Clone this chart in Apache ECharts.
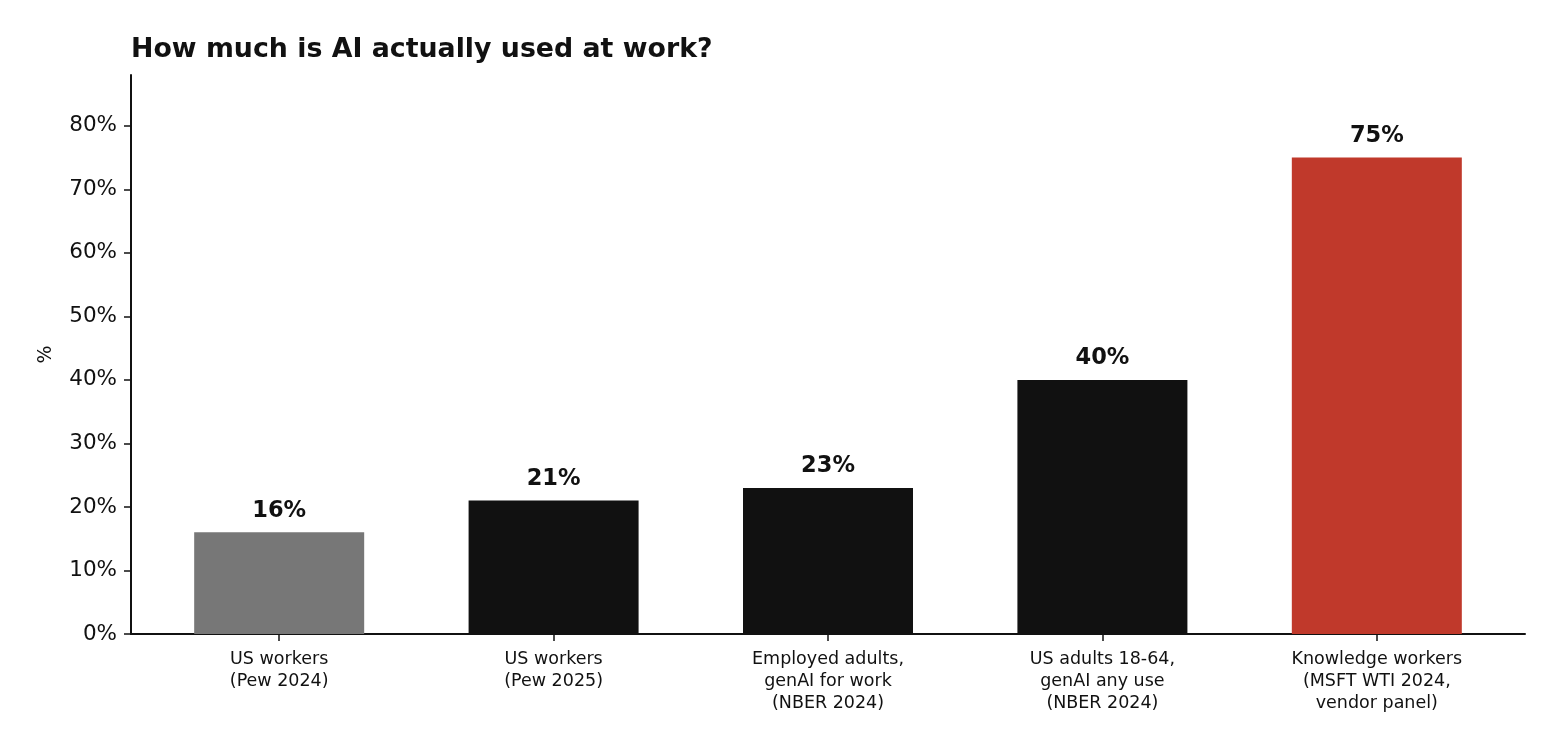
<!DOCTYPE html>
<html>
<head>
    <meta charset="utf-8">
    <title>AI at work</title>
    <script src="https://cdn.jsdelivr.net/npm/echarts@6/dist/echarts.min.js"></script>
    <style>
        html, body { width: 100%; height: 100%; margin: 0; background: #ffffff; }
        #main { width: 1562px; height: 752px; }
    </style>
</head>
<body>
    <div id="main"></div>
    <script type="text/javascript">
        var categories = [
            'US workers\n(Pew 2024)',
            'US workers\n(Pew 2025)',
            'Employed adults,\ngenAI for work\n(NBER 2024)',
            'US adults 18-64,\ngenAI any use\n(NBER 2024)',
            'Knowledge workers\n(MSFT WTI 2024,\nvendor panel)'
        ];
        var values = [16, 21, 23, 40, 75];
        var barColors = ['#777777', '#111111', '#111111', '#111111', '#c0392b'];
        var yTicks = [0, 10, 20, 30, 40, 50, 60, 70, 80];

        var font = 'DejaVu Sans';
        var myChart = echarts.init(document.getElementById('main'));

        var option = {
            animation: false,
            backgroundColor: '#ffffff',
            title: {
                text: 'How much is AI actually used at work?',
                left: 126,
                top: 32,
                textStyle: { fontFamily: font, fontSize: 26.8, fontWeight: 'bold', color: '#111111' }
            },
            grid: { left: 131, right: 37, top: 75, bottom: 118 },
            xAxis: {
                type: 'value',
                min: -0.54,
                max: 4.54,
                splitLine: { show: false },
                axisLine: { show: true, onZero: false, lineStyle: { color: '#111111', width: 2 } },
                axisTick: {
                    show: true, length: 7, lineStyle: { color: '#111111', width: 1.5 },
                    customValues: [0, 1, 2, 3, 4]
                },
                axisLabel: {
                    customValues: [0, 1, 2, 3, 4],
                    margin: 14,
                    lineHeight: 22,
                    fontFamily: font,
                    fontSize: 17.5,
                    color: '#111111',
                    formatter: function (v) { return categories[Math.round(v)]; }
                }
            },
            yAxis: {
                type: 'value',
                min: 0,
                max: 88,
                interval: 10,
                name: '%',
                nameLocation: 'middle',
                nameGap: 75,
                nameRotate: 90,
                nameTextStyle: { fontFamily: font, fontSize: 19, color: '#111111' },
                splitLine: { show: false },
                axisLine: { show: true, onZero: false, lineStyle: { color: '#111111', width: 2 } },
                axisTick: { show: true, length: 7, lineStyle: { color: '#111111', width: 1.5 } },
                axisLabel: {
                    showMaxLabel: false,
                    margin: 14,
                    padding: [4, 0, 0, 0],
                    fontFamily: font,
                    fontSize: 21.5,
                    color: '#111111',
                    formatter: function (v) { return yTicks.indexOf(v) >= 0 ? v + '%' : ''; }
                }
            },
            series: [{
                type: 'bar',
                barWidth: 170,
                data: values.map(function (v, i) {
                    return { value: [i, v], itemStyle: { color: barColors[i] } };
                }),
                label: {
                    show: true,
                    position: 'top',
                    distance: 10,
                    fontFamily: font,
                    fontSize: 22.5,
                    fontWeight: 'bold',
                    color: '#111111',
                    formatter: function (p) { return p.value[1] + '%'; }
                }
            }]
        };

        myChart.setOption(option);
    </script>
</body>
</html>
